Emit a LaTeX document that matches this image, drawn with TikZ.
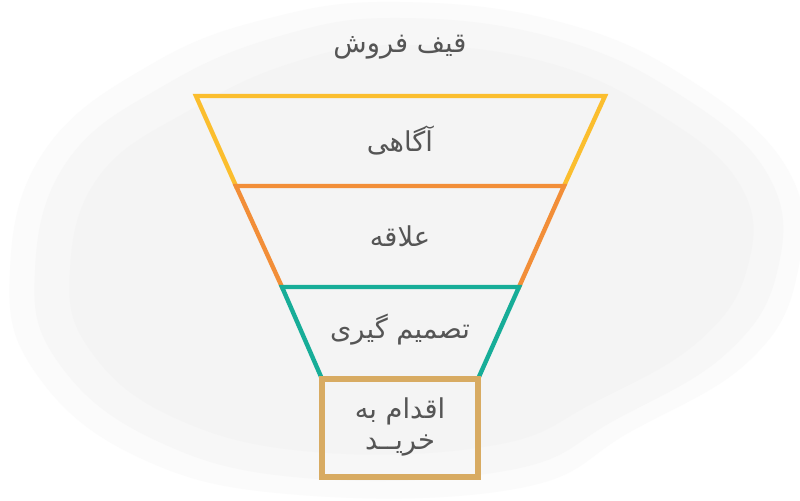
\documentclass[tikz,border=0pt]{standalone}
\usepackage{fontspec}
\TeXXeTstate=1
\newfontfamily\fafont[Script=Arabic]{DejaVu Sans}
\definecolor{fyellow}{HTML}{FBBE2E}
\definecolor{forange}{HTML}{F28E38}
\definecolor{fteal}{HTML}{17AD98}
\definecolor{ftan}{HTML}{D8AB62}
\definecolor{ftext}{HTML}{555555}
\begin{document}
\begin{tikzpicture}[x=0.75pt,y=-0.75pt,
  edge/.style={line width=3.3pt,line join=miter,line cap=rect},
  lbl/.style={text=ftext,font=\fafont\fontsize{20.5}{24}\selectfont,align=center}]
\useasboundingbox (0,0) rectangle (800,500);
\fill[white] (0,0) rectangle (800,500);
% soft background blob
\fill[black!1.5] plot[smooth cycle,tension=0.7] coordinates {(10,270) (45,150) (150,65) (270,18) (400,2) (560,22) (690,80) (788,170) (798,270) (750,360) (630,432) (520,488) (300,495) (140,458) (35,372)};
\fill[black!3] plot[smooth cycle,tension=0.7] coordinates {(35,270) (68,160) (165,85) (280,36) (400,18) (555,38) (680,95) (768,175) (778,268) (728,352) (615,420) (510,470) (305,478) (155,440) (58,362)};
\fill[black!4.5] plot[smooth cycle,tension=0.7] coordinates {(70,270) (100,175) (190,110) (295,62) (400,45) (545,62) (660,115) (740,185) (748,265) (700,340) (595,402) (495,445) (315,452) (175,418) (90,350)};
% funnel
\coordinate (y1) at (196,96); \coordinate (y2) at (605,96);
\coordinate (o1) at (236,186); \coordinate (o2) at (564,186);
\coordinate (t1) at (282,287); \coordinate (t2) at (519,287);
\coordinate (b1) at (322,379); \coordinate (b2) at (478,379);
\coordinate (b3) at (478,477); \coordinate (b4) at (322,477);
\draw[edge,fyellow] (o1) -- (y1) -- (y2) -- (o2);
\draw[edge,forange] (t1) -- (o1) -- (o2) -- (t2);
\draw[edge,fteal] (b1) -- (t1) -- (t2) -- (b2);
\draw[edge,ftan,line width=3.8pt] (b1) -- (b2) -- (b3) -- (b4) -- cycle;
% texts
\node[lbl] (title) at (400,47) {\beginR قیف فروش\endR};
\node[lbl] (l1) at (400,140) {\beginR آگاهی\endR};
\node[lbl] (l2) at (400,236) {\beginR علاقه\endR};
\node[lbl] (l3) at (400,330) {\beginR تصمیم گیری\endR};
\node[lbl] (l4a) at (400,411) {\beginR اقدام به\endR};
\node[lbl] (l4b) at (400,445) {\beginR خریــد\endR};
\end{tikzpicture}
\end{document}
